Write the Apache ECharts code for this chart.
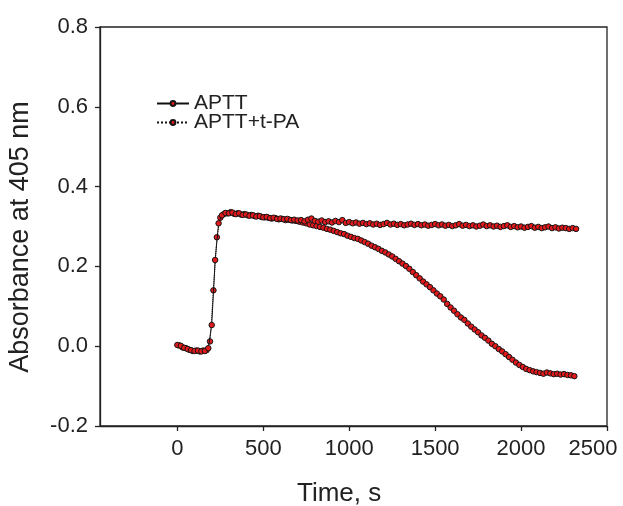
<!DOCTYPE html>
<html>
<head>
<meta charset="utf-8">
<script src="https://cdn.jsdelivr.net/npm/echarts@6/dist/echarts.min.js"></script>
<style>
html,body{margin:0;padding:0;background:#fff;}
#chart{width:623px;height:506px;}
</style>
</head>
<body>
<div id="chart"></div>
<script>
// ---- data ----
const seriesNames = ['APTT', 'APTT+t-PA'];
const xTickValues = [0, 500, 1000, 1500, 2000, 2500];
const yTickValues = [-0.2, 0.0, 0.2, 0.4, 0.6, 0.8];

// APTT: samples every 20 s starting at 0 s
const apttStart = 0, apttStep = 20;
const apttValues = [
  0.003, 0.001, -0.004, -0.007, -0.010, -0.012, -0.011, -0.013, -0.012, -0.005,
  0.053, 0.216, 0.308, 0.328, 0.334, 0.333, 0.335, 0.331, 0.333, 0.329,
  0.330, 0.327, 0.328, 0.325, 0.326, 0.323, 0.324, 0.321, 0.322, 0.319,
  0.320, 0.318, 0.319, 0.316, 0.317, 0.315, 0.316, 0.313, 0.317, 0.320,
  0.314, 0.312, 0.315, 0.311, 0.313, 0.310, 0.314, 0.311, 0.316, 0.309,
  0.311, 0.308, 0.310, 0.307, 0.309, 0.306, 0.308, 0.305, 0.307, 0.304,
  0.306, 0.309, 0.305, 0.307, 0.304, 0.306, 0.303, 0.305, 0.307, 0.304,
  0.306, 0.303, 0.305, 0.302, 0.304, 0.306, 0.303, 0.305, 0.302, 0.304,
  0.301, 0.303, 0.306, 0.302, 0.304, 0.301, 0.303, 0.300, 0.302, 0.305,
  0.301, 0.303, 0.300, 0.302, 0.299, 0.301, 0.303, 0.299, 0.301, 0.298,
  0.300, 0.297, 0.299, 0.301, 0.297, 0.299, 0.296, 0.298, 0.300, 0.296,
  0.298, 0.295, 0.297, 0.296, 0.294, 0.296, 0.294
];

// APTT+t-PA: samples every 20 s starting at 10 s
const tpaStart = 10, tpaStep = 20;
const tpaValues = [
  0.002, -0.003, -0.005, -0.009, -0.012, -0.011, -0.013, -0.011, -0.010, 0.012,
  0.140, 0.273, 0.322, 0.331, 0.333, 0.336, 0.332, 0.333, 0.330, 0.331,
  0.328, 0.329, 0.326, 0.327, 0.324, 0.323, 0.322, 0.320, 0.321, 0.318,
  0.319, 0.316, 0.317, 0.315, 0.314, 0.312, 0.310, 0.308, 0.305, 0.303,
  0.301, 0.299, 0.297, 0.294, 0.292, 0.289, 0.286, 0.283, 0.281, 0.277,
  0.274, 0.271, 0.269, 0.265, 0.261, 0.257, 0.252, 0.248, 0.244, 0.239,
  0.235, 0.230, 0.225, 0.219, 0.213, 0.207, 0.201, 0.194, 0.186, 0.178,
  0.170, 0.162, 0.155, 0.148, 0.140, 0.132, 0.125, 0.117, 0.106, 0.097,
  0.089, 0.080, 0.072, 0.066, 0.057, 0.049, 0.042, 0.035, 0.027, 0.021,
  0.014, 0.006, 0.000, -0.007, -0.013, -0.020, -0.027, -0.034, -0.041, -0.047,
  -0.052, -0.057, -0.060, -0.063, -0.065, -0.067, -0.069, -0.066, -0.068, -0.070,
  -0.069, -0.071, -0.070, -0.072, -0.073, -0.075
];

const xTitle = 'Time, s';
const yTitle = 'Absorbance at 405 nm';

// ---- build ----
const toPairs = (start, step, vals) => vals.map((v, i) => [start + i * step, v]);
const apttData = toPairs(apttStart, apttStep, apttValues);
const tpaData = toPairs(tpaStart, tpaStep, tpaValues);

const FONT = '"Liberation Sans", Arial, sans-serif';
const INK = '#222';
const markerStyle = { color: '#e3191c', borderColor: '#151515', borderWidth: 1 };

const chart = echarts.init(document.getElementById('chart'), null, { renderer: 'canvas' });
chart.setOption({
  animation: false,
  backgroundColor: '#fff',
  grid: { left: 100, top: 27, right: 16, bottom: 80, show: true, borderColor: INK, borderWidth: 1.3, containLabel: false },
  xAxis: {
    type: 'value', min: -450, max: 2500,
    axisLine: { show: true, onZero: false, lineStyle: { color: INK, width: 1.3 } },
    axisTick: { show: true, inside: false, length: 5, customValues: xTickValues, lineStyle: { color: INK, width: 1.3 } },
    axisLabel: {
      customValues: xTickValues, margin: 12, color: INK, fontSize: 22, fontFamily: FONT,
      formatter: v => (v === 2500 ? '{last|2500}' : String(v)),
      rich: { last: { padding: [0, 28, 0, 0], color: INK, fontSize: 22, fontFamily: FONT } }
    },
    splitLine: { show: false }
  },
  yAxis: {
    type: 'value', min: -0.2, max: 0.8, interval: 0.2,
    axisLine: { show: true, onZero: false, lineStyle: { color: INK, width: 1.3 } },
    axisTick: { show: true, inside: false, length: 5, lineStyle: { color: INK, width: 1.3 } },
    axisLabel: { margin: 12, color: INK, fontSize: 22, fontFamily: FONT, formatter: v => v.toFixed(1) },
    splitLine: { show: false }
  },
  legend: [
    {
      data: [seriesNames[0]], left: 151, top: 88, orient: 'vertical',
      itemWidth: 32, itemHeight: 6,
      textStyle: { color: INK, fontSize: 21, fontFamily: FONT }
    },
    {
      data: [seriesNames[1]], left: 151, top: 107, orient: 'vertical',
      itemWidth: 32, itemHeight: 6,
      textStyle: { color: INK, fontSize: 21, fontFamily: FONT }
    }
  ],
  graphic: [
    { type: 'text', left: 340 - 43, top: 481,
      style: { text: xTitle, fill: INK, font: '26px ' + FONT } },
    { type: 'text', x: 21, y: 237, rotation: Math.PI / 2,
      style: { text: yTitle, fill: INK, font: '27px ' + FONT, align: 'center', verticalAlign: 'middle' } }
  ],
  series: [
    {
      name: seriesNames[0], type: 'line', data: apttData,
      symbol: 'circle', symbolSize: 5.5, showAllSymbol: true,
      lineStyle: { color: '#111', width: 1, type: 'solid' },
      itemStyle: markerStyle, z: 3
    },
    {
      name: seriesNames[1], type: 'line', data: tpaData,
      symbol: 'circle', symbolSize: 5.5, showAllSymbol: true,
      lineStyle: { color: '#111', width: 1, type: 'dotted' },
      itemStyle: markerStyle, z: 2
    }
  ]
});
</script>
</body>
</html>
